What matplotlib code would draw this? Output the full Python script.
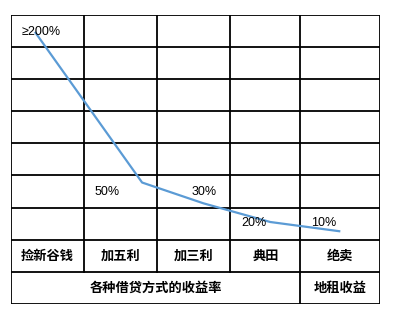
import matplotlib
matplotlib.use("Agg")
import matplotlib.pyplot as plt
import numpy as np

plt.rcParams['font.family'] = ['Noto Sans CJK SC', 'DejaVu Sans']

# ---- data ----
categories = ['捡新谷钱', '加五利', '加三利', '典田', '绝卖']
rate_labels = ['≥200%', '50%', '30%', '20%', '10%']
rate_values = [200, 50, 30, 20, 10]
# height of the hand-drawn curve at each point (in %)
curve_level = [200, 55, 35, 17, 8]
# horizontal position of each curve vertex within its column (fraction)
curve_pos = [0.33, 0.79, 0.63, 0.57, 0.50]
group_labels = ['各种借贷方式的收益率', '地租收益']

# ---- layout ----
col_widths = np.array([74, 73, 73, 70, 80], dtype=float)
edges = np.concatenate([[0], np.cumsum(col_widths)])
upper_rows = 7
rows_per_pct = 6.46 / 200.0

fig = plt.figure(figsize=(3.93, 3.14), dpi=100)
W, H = 393.0, 314.0
left, right, top, bottom = 10.5, 380.3, 14.5, 304.0
ax = fig.add_axes([left / W, 1 - bottom / H, (right - left) / W, (bottom - top) / H])
ax.set_xlim(0, edges[-1])
ax.set_ylim(-2, upper_rows)
ax.axis('off')

lw = 1.3
k = dict(color='black', lw=lw, solid_capstyle='projecting', zorder=3)
# horizontal lines
for y in range(-2, upper_rows + 1):
    ax.plot([0, edges[-1]], [y, y], **k)
# vertical lines
for i, x in enumerate(edges):
    if i in (0, len(edges) - 1):
        ax.plot([x, x], [-2, upper_rows], **k)
    elif i == len(edges) - 2:
        ax.plot([x, x], [-2, upper_rows], **k)
    else:
        ax.plot([x, x], [-1, upper_rows], **k)

# curve
cx = [edges[i] + curve_pos[i] * col_widths[i] for i in range(len(categories))]
cy = [v * rows_per_pct for v in curve_level]
ax.plot(cx, cy, color='#5B9BD5', lw=1.6, zorder=4, solid_capstyle='butt')

# percent labels
lab_pos = [0.155, 0.14, 0.47, 0.15, 0.13]
lab_row = [6.47, 1.48, 1.49, 0.51, 0.51]
for i, t in enumerate(rate_labels):
    ax.text(edges[i] + lab_pos[i] * col_widths[i], lab_row[i], t,
            ha='left', va='center', fontsize=9,
            family=['Liberation Sans', 'DejaVu Sans'], zorder=5)

# category labels
for i, c in enumerate(categories):
    ax.text((edges[i] + edges[i + 1]) / 2, -0.5, c, ha='center', va='center',
            fontsize=9.5, fontweight='bold', zorder=5)

# bottom row
ax.text(edges[4] / 2, -1.5, group_labels[0], ha='center', va='center',
        fontsize=9.5, fontweight='bold', zorder=5)
ax.text((edges[4] + edges[5]) / 2, -1.5, group_labels[1], ha='center', va='center',
        fontsize=9.5, fontweight='bold', zorder=5)

fig.savefig('out.png', dpi=100, facecolor='white')
